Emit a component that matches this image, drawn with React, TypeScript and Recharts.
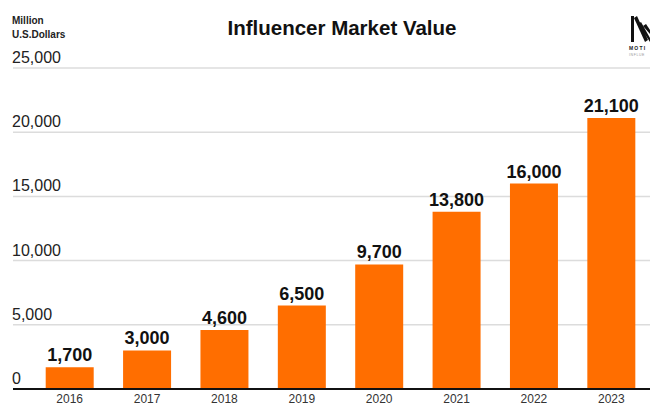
import { BarChart, Bar, XAxis, YAxis, CartesianGrid, LabelList } from 'recharts';

const years = ['2016', '2017', '2018', '2019', '2020', '2021', '2022', '2023'];
const marketValue = [1700, 3000, 4600, 6500, 9700, 13800, 16000, 21100];
const yTicks = [0, 5000, 10000, 15000, 20000, 25000];

const data = years.map((year, i) => ({ year, value: marketValue[i] }));

const FONT = '"Liberation Sans", Arial, Helvetica, sans-serif';

// y tick labels sit above the grid line, left aligned
const YTick = (props: any) => {
  const { y, payload } = props;
  return (
    <text x={12} y={y - 5} textAnchor="start" fontSize={16} fontFamily={FONT} fill="#222">
      {Number(payload.value).toLocaleString('en-US')}
    </text>
  );
};

const App = () => {
  return (
    <div style={{ position: 'absolute', left: 0, top: 0, width: 650, height: 405, background: '#fff', overflow: 'hidden' }}>
      <BarChart
        width={650}
        height={405}
        data={data}
        margin={{ top: 68, right: 0, left: 12, bottom: 0 }}
        barCategoryGap="19%"
      >
        <CartesianGrid vertical={false} stroke="#dcdcdc" strokeWidth={1.5} />
        <XAxis
          dataKey="year"
          height={16}
          padding={{ left: 18, right: 0 }}
          axisLine={{ stroke: '#111', strokeWidth: 2 }}
          tickLine={false}
          tickSize={0}
          tickMargin={5}
          interval={0}
          tick={{ fontSize: 12, fontFamily: FONT, fill: '#333' }}
        />
        <YAxis
          width={1}
          domain={[0, 25000]}
          ticks={yTicks}
          interval={0}
          axisLine={false}
          tickLine={false}
          tick={<YTick />}
        />
        <Bar dataKey="value" fill="#FF6E00" isAnimationActive={false}>
          <LabelList
            dataKey="value"
            position="top"
            offset={6}
            formatter={(v: any) => Number(v).toLocaleString('en-US')}
            style={{ fontSize: 18, fontWeight: 700, fontFamily: FONT, fill: '#111' }}
          />
        </Bar>
      </BarChart>

      {/* title, unit and logo overlay */}
      <svg width={650} height={66} style={{ position: 'absolute', left: 0, top: 0 }}>
        <text x={12} y={24} fontSize={10} fontWeight={700} fontFamily={FONT} fill="#222">Million</text>
        <text x={12} y={38} fontSize={10} fontWeight={700} fontFamily={FONT} fill="#222">U.S.Dollars</text>
        <text x={342} y={35} textAnchor="middle" fontSize={20.5} fontWeight={700} fontFamily={FONT} fill="#111">
          Influencer Market Value
        </text>
        <g fill="#111">
          <polygon points="631,16 634,16 634,42 631,42" />
          <polygon points="634,18 637,16 648,40 645,42" />
          <polygon points="638,24 641,22 650,38 650,42" />
          <polygon points="643,26 646,24 650,30 650,34" />
        </g>
        <text x={629} y={50} fontSize={5} fontWeight={700} letterSpacing={1.2} fontFamily={FONT} fill="#222">MOTI</text>
        <text x={629} y={56} fontSize={3.5} letterSpacing={0.6} fontFamily={FONT} fill="#999">INFLUE</text>
      </svg>
    </div>
  );
};

export default App;
